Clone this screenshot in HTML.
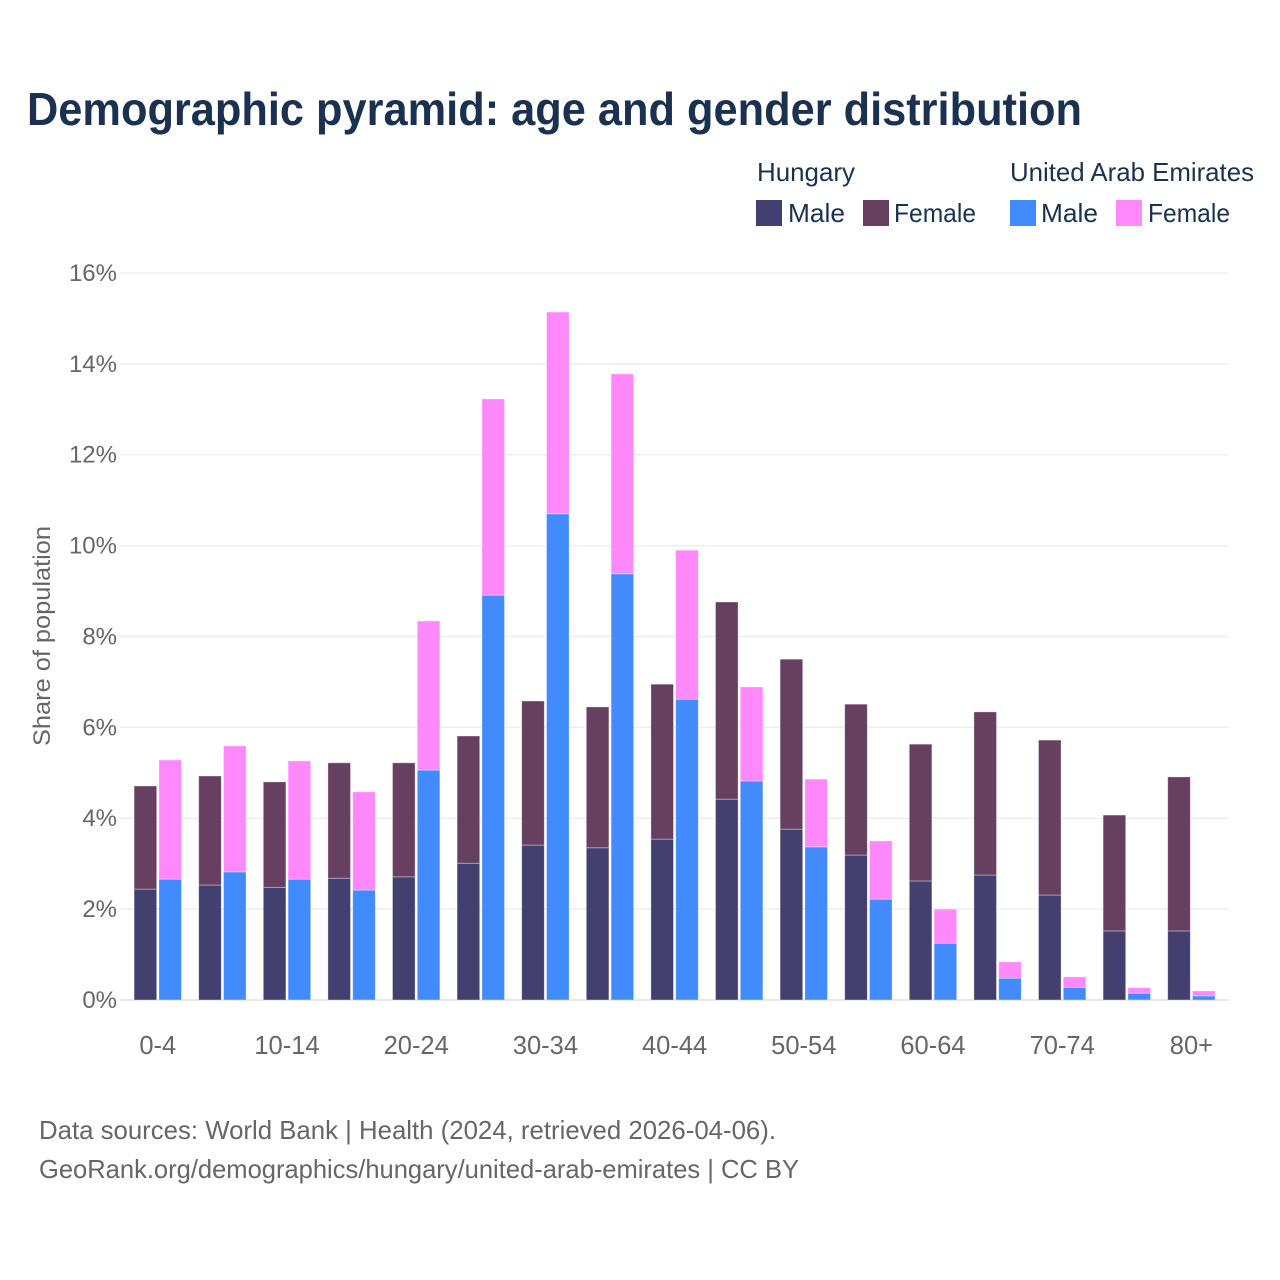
<!DOCTYPE html>
<html lang="en">
<head>
<meta charset="utf-8">
<title>Demographic pyramid: age and gender distribution</title>
<style>
html,body{margin:0;padding:0;background:#fff;}
svg{display:block;font-family:"Liberation Sans",sans-serif;}
</style>
</head>
<body>
<svg id="chart" xmlns="http://www.w3.org/2000/svg" width="1280" height="1280" viewBox="0 0 1280 1280">
  <rect x="0" y="0" width="1280" height="1280" fill="#ffffff"/>
  <text x="27" y="125" font-size="46" font-weight="700" fill="#1a3150" textLength="1055" lengthAdjust="spacingAndGlyphs">Demographic pyramid: age and gender distribution</text>

  <g font-size="26" fill="#1a3150">
    <text x="757" y="181" textLength="98" lengthAdjust="spacingAndGlyphs">Hungary</text>
    <text x="1010" y="181" textLength="244" lengthAdjust="spacingAndGlyphs">United Arab Emirates</text>
    <rect x="756" y="200" width="26" height="26" fill="#433f6f"/>
    <text x="788" y="222" textLength="57" lengthAdjust="spacingAndGlyphs">Male</text>
    <rect x="863" y="200" width="26" height="26" fill="#674061"/>
    <text x="894" y="222" textLength="82" lengthAdjust="spacingAndGlyphs">Female</text>
    <rect x="1010" y="200" width="26" height="26" fill="#418bff"/>
    <text x="1041" y="222" textLength="57" lengthAdjust="spacingAndGlyphs">Male</text>
    <rect x="1116" y="200" width="26" height="26" fill="#ff88fa"/>
    <text x="1148" y="222" textLength="82" lengthAdjust="spacingAndGlyphs">Female</text>
  </g>

  <g id="grid"></g>
  <g id="y-ticks"></g>
  <g id="bars"></g>
  <g id="x-ticks"></g>

  <text transform="translate(50,636) rotate(-90)" text-anchor="middle" font-size="24" fill="#666666" textLength="220" lengthAdjust="spacingAndGlyphs">Share of population</text>

  <g font-size="26" fill="#666666">
    <text x="39" y="1139" textLength="737" lengthAdjust="spacingAndGlyphs">Data sources: World Bank | Health (2024, retrieved 2026-04-06).</text>
    <text x="39" y="1178" textLength="760" lengthAdjust="spacingAndGlyphs">GeoRank.org/demographics/hungary/united-arab-emirates | CC BY</text>
  </g>
</svg>
<script>
const categories = ["0-4","5-9","10-14","15-19","20-24","25-29","30-34","35-39","40-44","45-49","50-54","55-59","60-64","65-69","70-74","75-79","80+"];
const xTickLabels = ["0-4","10-14","20-24","30-34","40-44","50-54","60-64","70-74","80+"];
const yTicks = [0,2,4,6,8,10,12,14,16];
const hungaryMale = [2.44,2.53,2.48,2.68,2.71,3.01,3.41,3.35,3.54,4.42,3.76,3.19,2.62,2.75,2.31,1.52,1.52];
const hungaryFemale = [2.27,2.40,2.32,2.54,2.51,2.80,3.17,3.10,3.41,4.34,3.74,3.32,3.01,3.59,3.41,2.55,3.39];
const uaeMale = [2.66,2.82,2.66,2.42,5.06,8.91,10.70,9.38,6.62,4.82,3.37,2.22,1.25,0.48,0.28,0.15,0.09];
const uaeFemale = [2.62,2.77,2.60,2.16,3.28,4.32,4.44,4.40,3.28,2.07,1.49,1.28,0.75,0.36,0.23,0.12,0.11];

const NS = "http://www.w3.org/2000/svg";
const yScale = v => 1000 - v * 45.44;
const xCenter = i => 157.8 + i * 64.6;
const barWidth = 22.6;

function rect(parent, x, y0, y1, fill) {
  const r = document.createElementNS(NS, "rect");
  r.setAttribute("x", x);
  r.setAttribute("y", yScale(y1));
  r.setAttribute("width", barWidth);
  r.setAttribute("height", yScale(y0) - yScale(y1));
  r.setAttribute("fill", fill);
  r.setAttribute("stroke", "rgba(255,255,255,0.45)");
  r.setAttribute("stroke-width", "0.8");
  parent.appendChild(r);
  return r;
}

const grid = document.getElementById("grid");
const yTickGroup = document.getElementById("y-ticks");
yTicks.forEach(v => {
  const l = document.createElementNS(NS, "line");
  
  
  l.setAttribute("x1", 120);
  l.setAttribute("x2", 1228);
  l.setAttribute("y1", yScale(v));
  l.setAttribute("y2", yScale(v));
  l.setAttribute("stroke", v === 0 ? "#e8e8e8" : "#eeeeee");
  l.setAttribute("stroke-width", v === 0 ? 2 : 1.5);
  grid.appendChild(l);

  const t = document.createElementNS(NS, "text");
  
  
  t.setAttribute("x", 117);
  t.setAttribute("y", yScale(v) + 8);
  t.setAttribute("text-anchor", "end");
  t.setAttribute("font-size", 24);
  t.setAttribute("fill", "#666666");
  t.textContent = v + "%";
  yTickGroup.appendChild(t);
});

const bars = document.getElementById("bars");
categories.forEach((c, i) => {
  const cx = xCenter(i);
  const leftX = cx - barWidth - 1.1;
  const rightX = cx + 1.1;

  const a = rect(bars, leftX, 0, hungaryMale[i], "#433f6f");
  
  

  const b = rect(bars, leftX, hungaryMale[i], hungaryMale[i] + hungaryFemale[i], "#674061");
  
  

  const d = rect(bars, rightX, 0, uaeMale[i], "#418bff");
  
  

  const e = rect(bars, rightX, uaeMale[i], uaeMale[i] + uaeFemale[i], "#ff88fa");
  
  
});

const xTickGroup = document.getElementById("x-ticks");
xTickLabels.forEach(label => {
  const i = categories.indexOf(label);
  const t = document.createElementNS(NS, "text");
  
  
  t.setAttribute("x", xCenter(i));
  t.setAttribute("y", 1054);
  t.setAttribute("text-anchor", "middle");
  t.setAttribute("font-size", 25.5);
  t.setAttribute("fill", "#666666");
  t.textContent = label;
  xTickGroup.appendChild(t);
});
</script>
</body>
</html>
